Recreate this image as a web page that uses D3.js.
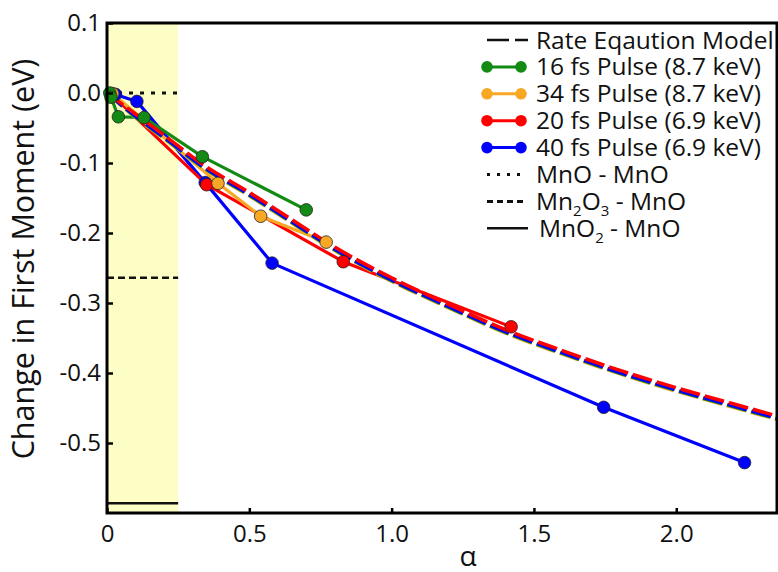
<!DOCTYPE html>
<html>
<head>
<meta charset="utf-8">
<script src="https://cdn.jsdelivr.net/npm/d3@7"></script>
<style>
  body { margin: 0; background: #fff; }
  svg { display: block; font-family: "Open Sans", sans-serif; }
</style>
</head>
<body>
<div id="chart"></div>
<script>
// measured points, [alpha, change in first moment (eV)]
const green16 = [[0.01, 0.0], [0.014, -0.006], [0.04, -0.034], [0.13, -0.035], [0.335, -0.091], [0.70, -0.167]];
const orange34 = [[0.02, -0.001], [0.39, -0.129], [0.54, -0.176], [0.77, -0.213]];
const red20 = [[0.015, -0.002], [0.35, -0.131], [0.83, -0.241], [1.42, -0.334]];
const blue40 = [[0.03, -0.002], [0.105, -0.012], [0.345, -0.128], [0.58, -0.243], [1.745, -0.449], [2.24, -0.528]];

// rate equation model curves (one per pulse, nearly overlapping)
const modelAlpha = [0, 0.1, 0.2, 0.34, 0.5, 0.65, 0.8, 1.0, 1.2, 1.4, 1.6, 1.8, 2.0, 2.2, 2.36];
const modelRed    = [0, -0.030, -0.060, -0.103, -0.142, -0.181, -0.220, -0.264, -0.302, -0.338, -0.368, -0.396, -0.421, -0.444, -0.462];
const modelBlue   = [0, -0.033, -0.063, -0.106, -0.145, -0.184, -0.223, -0.267, -0.305, -0.341, -0.371, -0.399, -0.424, -0.447, -0.465];
const modelGreen  = [0, -0.034, -0.064, -0.107, -0.146, -0.185, -0.224, -0.268, -0.306, -0.342, -0.372, -0.400, -0.425, -0.448, -0.466];
const modelOrange = [0, -0.035, -0.065, -0.108, -0.147, -0.186, -0.225, -0.269, -0.307, -0.343, -0.373, -0.401, -0.426, -0.449, -0.467];

// reference oxide shifts, drawn in the shaded band
const bandMax = 0.25;
const refMnO = 0.0, refMn2O3 = -0.264, refMnO2 = -0.586;

const xTicks = [0, 0.5, 1.0, 1.5, 2.0];
const xTickLabels = ["0", "0.5", "1.0", "1.5", "2.0"];
const yTicks = [0.1, 0.0, -0.1, -0.2, -0.3, -0.4, -0.5];

const legendItems = [
  { label: "Rate Eqaution Model", kind: "model" },
  { label: "16 fs Pulse (8.7 keV)", kind: "data", color: "#138a13" },
  { label: "34 fs Pulse (8.7 keV)", kind: "data", color: "#f9a825" },
  { label: "20 fs Pulse (6.9 keV)", kind: "data", color: "#ff0000" },
  { label: "40 fs Pulse (6.9 keV)", kind: "data", color: "#0000ff" },
  { label: "MnO - MnO", kind: "dot" },
  { label: "Mn2O3 - MnO", kind: "dash" },
  { label: "MnO2 - MnO", kind: "solid" }
];

const width = 778, height = 572;
const margin = { top: 23, right: 1, bottom: 59, left: 107 };

const svg = d3.select("#chart").append("svg")
  .attr("width", width)
  .attr("height", height);

const x = d3.scaleLinear().domain([0, 2.354]).range([margin.left, width - margin.right]);
const y = d3.scaleLinear().domain([-0.6, 0.1]).range([height - margin.bottom, margin.top]);

// shaded band
svg.append("rect")
  .attr("x", x(0)).attr("y", y(0.1))
  .attr("width", x(bandMax) - x(0)).attr("height", y(-0.6) - y(0.1))
  .attr("fill", "#fdfdc6");

// reference lines
const refs = [
  { v: refMnO, dash: "4,7", w: 3 },
  { v: refMn2O3, dash: "7,4", w: 2.5 },
  { v: refMnO2, dash: null, w: 2.5 }
];
svg.append("g").selectAll("line").data(refs).join("line")
  .attr("x1", x(0)).attr("x2", x(bandMax))
  .attr("y1", d => y(d.v)).attr("y2", d => y(d.v))
  .attr("stroke", "#111")
  .attr("stroke-width", d => d.w)
  .attr("stroke-dasharray", d => d.dash);

const line = d3.line().x(d => x(d[0])).y(d => y(d[1]));

const series = [
  { pts: blue40, color: "#0000ff" },
  { pts: red20, color: "#ff0000" },
  { pts: orange34, color: "#f9a825" },
  { pts: green16, color: "#138a13" }
];

const plot = svg.append("g");

// data lines
plot.selectAll("path.data").data(series).join("path")
  .attr("class", "data")
  .attr("d", d => line(d.pts))
  .attr("fill", "none")
  .attr("stroke", d => d.color)
  .attr("stroke-width", 3.2)
  .attr("stroke-linejoin", "round");

// model curves
const modelLine = d3.line().curve(d3.curveMonotoneX).x(d => x(d[0])).y(d => y(d[1]));
const models = [
  { vals: modelOrange, color: "#f9a825" },
  { vals: modelGreen, color: "#138a13" },
  { vals: modelBlue, color: "#0000ff" },
  { vals: modelRed, color: "#ff0000" }
];
plot.selectAll("path.model").data(models).join("path")
  .attr("class", "model")
  .attr("d", d => modelLine(modelAlpha.map((a, i) => [a, d.vals[i]])))
  .attr("fill", "none")
  .attr("stroke", d => d.color)
  .attr("stroke-width", 3.5)
  .attr("stroke-dasharray", "20,5");

// markers
series.forEach(s => {
  plot.append("g").selectAll("circle").data(s.pts).join("circle")
    .attr("cx", d => x(d[0])).attr("cy", d => y(d[1]))
    .attr("r", 6.3)
    .attr("fill", s.color)
    .attr("stroke", "#222")
    .attr("stroke-width", 0.8);
});

// frame drawn on top
svg.append("rect")
  .attr("x", x(0)).attr("y", y(0.1))
  .attr("width", x(2.354) - x(0)).attr("height", y(-0.6) - y(0.1))
  .attr("fill", "none")
  .attr("stroke", "#000")
  .attr("stroke-width", 3);

// axes
const xAxis = svg.append("g")
  .attr("transform", `translate(0,${y(-0.6)})`)
  .call(d3.axisBottom(x).tickValues(xTicks).tickFormat((d, i) => xTickLabels[i])
    .tickSizeInner(-5).tickSizeOuter(0).tickPadding(12));
const yAxis = svg.append("g")
  .attr("transform", `translate(${x(0)},0)`)
  .call(d3.axisLeft(y).tickValues(yTicks).tickFormat(d3.format(".1f"))
    .tickSizeInner(-6).tickSizeOuter(0).tickPadding(6));

[xAxis, yAxis].forEach(a => {
  a.select(".domain").remove();
  a.selectAll(".tick line").attr("stroke", "#000").attr("stroke-width", 2.5);
  a.selectAll(".tick text").attr("fill", "#111").attr("font-size", 24).attr("font-family", "Open Sans, sans-serif");
});
yAxis.selectAll(".tick text").text(d => d3.format(".1f")(d).replace("−", "-"));

// axis titles
svg.append("text")
  .attr("x", 468).attr("y", 566)
  .attr("text-anchor", "middle")
  .attr("font-size", 28)
  .attr("fill", "#111")
  .text("α");

svg.append("text")
  .attr("transform", `translate(34,259) rotate(-90)`)
  .attr("text-anchor", "middle")
  .attr("font-size", 30.5)
  .attr("fill", "#111")
  .text("Change in First Moment (eV)");

// legend
const lg = svg.append("g").attr("transform", "translate(487,40)");
const row = lg.selectAll("g").data(legendItems).join("g")
  .attr("transform", (d, i) => `translate(0,${i * 26.9})`);

row.each(function (d) {
  const g = d3.select(this);
  if (d.kind === "model") {
    g.append("line").attr("x1", 0).attr("x2", 41).attr("stroke", "#111")
      .attr("stroke-width", 2.5).attr("stroke-dasharray", "22,6,13");
  } else if (d.kind === "data") {
    g.append("line").attr("x1", 0).attr("x2", 34).attr("stroke", d.color).attr("stroke-width", 3);
    g.selectAll("circle").data([0, 34]).join("circle")
      .attr("cx", c => c).attr("r", 5.8).attr("fill", d.color);
  } else if (d.kind === "dot") {
    g.append("line").attr("x1", 0).attr("x2", 34).attr("stroke", "#111")
      .attr("stroke-width", 3).attr("stroke-dasharray", "3,7");
  } else if (d.kind === "dash") {
    g.append("line").attr("x1", 0).attr("x2", 36).attr("stroke", "#111")
      .attr("stroke-width", 3).attr("stroke-dasharray", "6,4");
  } else {
    g.append("line").attr("x1", 0).attr("x2", 41).attr("stroke", "#111").attr("stroke-width", 2.5);
  }
  const t = g.append("text").attr("x", d.kind === "solid" ? 52 : 49).attr("dy", "0.35em")
    .attr("font-size", 24.5).attr("fill", "#111");
  if (d.label.startsWith("Mn2O3")) {
    t.append("tspan").text("Mn");
    t.append("tspan").attr("font-size", 15).attr("dy", 6).text("2");
    t.append("tspan").attr("dy", -6).text("O");
    t.append("tspan").attr("font-size", 15).attr("dy", 6).text("3");
    t.append("tspan").attr("dy", -6).text(" - MnO");
  } else if (d.label.startsWith("MnO2")) {
    t.append("tspan").text("MnO");
    t.append("tspan").attr("font-size", 15).attr("dy", 6).text("2");
    t.append("tspan").attr("dy", -6).text(" - MnO");
  } else {
    t.text(d.label);
  }
});
</script>
</body>
</html>
